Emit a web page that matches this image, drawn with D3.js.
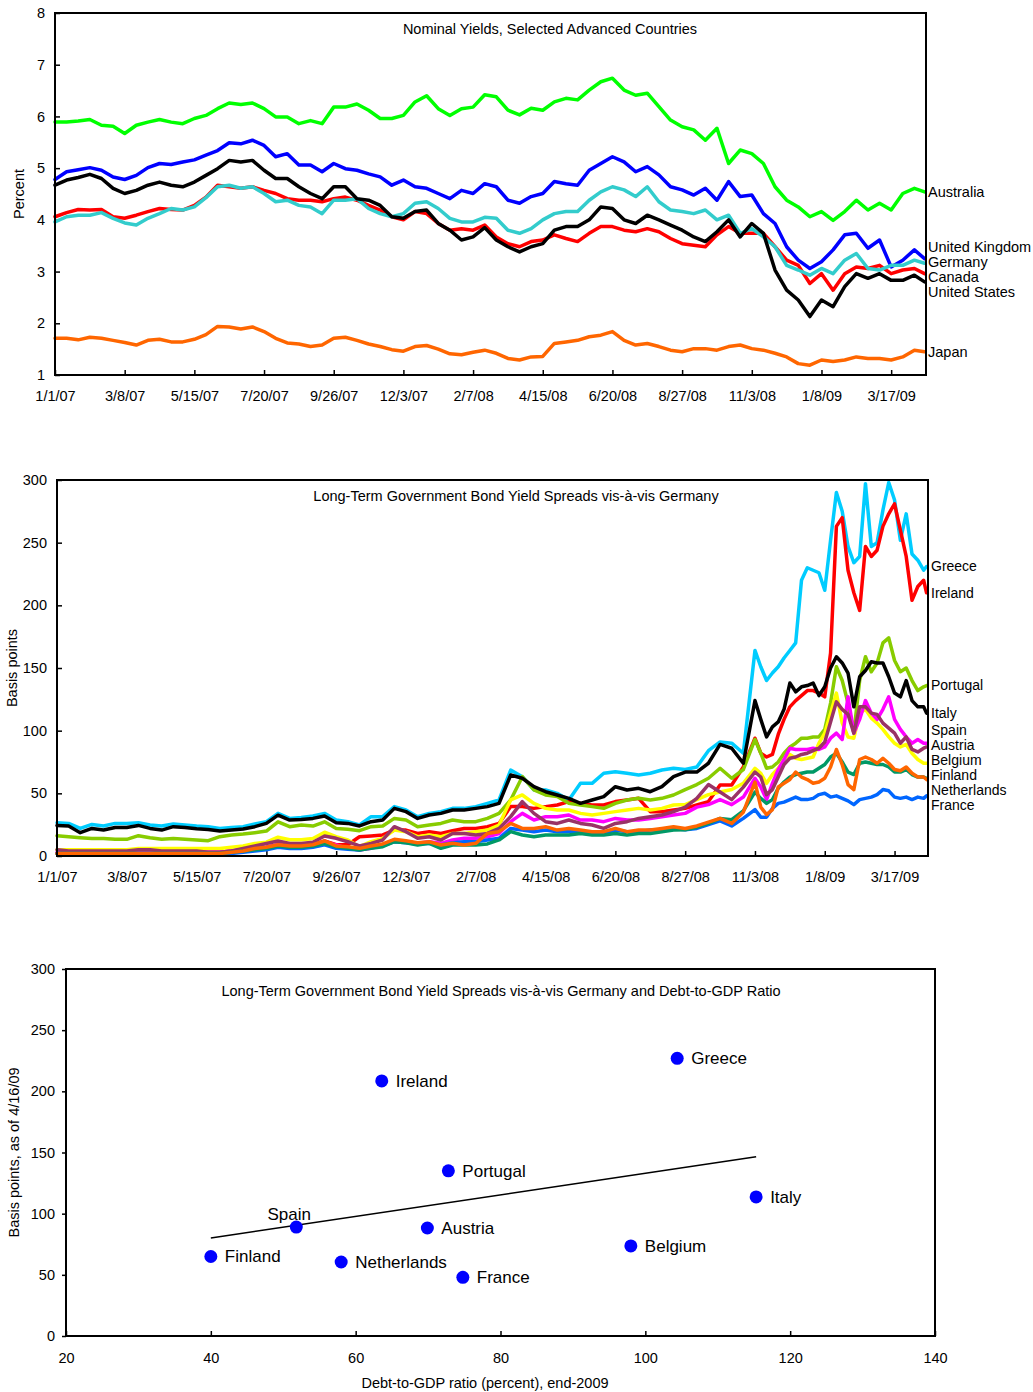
<!DOCTYPE html>
<html>
<head>
<meta charset="utf-8">
<script src="https://cdn.jsdelivr.net/npm/d3@7"></script>
<style>
  body { margin: 0; background: #fff; }
  svg text { font-family: "Liberation Sans", Arial, Helvetica, sans-serif; fill: #000; }
</style>
</head>
<body>
<svg id="chart" width="1033" height="1392"></svg>
<script>
// ---- shared x axis: trading-day index, a label every 48 trading days ----
const dateTicks = ['1/1/07', '3/8/07', '5/15/07', '7/20/07', '9/26/07', '12/3/07', '2/7/08',
  '4/15/08', '6/20/08', '8/27/08', '11/3/08', '1/8/09', '3/17/09'];

// ---- panel 1: nominal yields (percent) ----
const yieldDays = [0,8,16,24,32,40,48,56,64,72,80,88,96,104,112,120,128,136,144,152,160,168,176,184,192,200,208,216,224,232,240,248,256,264,272,280,288,296,304,312,320,328,336,344,352,360,368,376,384,392,400,408,416,424,432,440,448,456,464,472,480,488,496,504,512,520,528,536,544,552,560,568,576,584,592,599];
const australia = [5.89,5.89,5.91,5.94,5.83,5.81,5.67,5.83,5.89,5.94,5.89,5.86,5.96,6.02,6.15,6.26,6.23,6.26,6.15,5.99,5.99,5.86,5.92,5.86,6.18,6.18,6.24,6.12,5.96,5.96,6.02,6.28,6.40,6.15,6.02,6.15,6.18,6.42,6.38,6.12,6.03,6.16,6.12,6.28,6.35,6.32,6.51,6.67,6.74,6.51,6.41,6.45,6.19,5.93,5.80,5.74,5.54,5.77,5.09,5.35,5.28,5.09,4.64,4.38,4.25,4.06,4.16,3.99,4.16,4.38,4.19,4.32,4.19,4.51,4.61,4.54];
const unitedKingdom = [4.78,4.93,4.97,5.01,4.96,4.83,4.78,4.86,5.01,5.09,5.07,5.12,5.16,5.25,5.34,5.49,5.47,5.54,5.44,5.22,5.28,5.06,5.06,4.93,5.09,4.99,4.96,4.89,4.83,4.67,4.77,4.64,4.61,4.51,4.41,4.57,4.51,4.70,4.64,4.38,4.32,4.45,4.51,4.74,4.70,4.67,4.96,5.09,5.22,5.12,4.93,5.03,4.87,4.64,4.58,4.48,4.61,4.38,4.74,4.45,4.48,4.12,3.93,3.48,3.22,3.06,3.19,3.42,3.71,3.74,3.45,3.61,3.09,3.22,3.42,3.25];
const germany = [3.96,4.06,4.09,4.09,4.14,4.03,3.94,3.90,4.03,4.12,4.22,4.19,4.25,4.43,4.64,4.67,4.61,4.64,4.51,4.35,4.38,4.28,4.25,4.12,4.38,4.38,4.41,4.22,4.12,4.06,4.12,4.32,4.35,4.22,4.03,3.96,3.96,4.05,4.03,3.80,3.74,3.83,4.00,4.12,4.16,4.16,4.38,4.54,4.64,4.58,4.45,4.64,4.35,4.19,4.16,4.12,4.19,4.00,4.09,3.74,3.83,3.67,3.48,3.12,3.03,2.93,3.06,2.96,3.22,3.35,3.06,3.03,3.12,3.12,3.22,3.16];
const canada = [4.06,4.14,4.20,4.19,4.20,4.06,4.03,4.09,4.16,4.22,4.20,4.19,4.28,4.44,4.67,4.64,4.61,4.64,4.57,4.51,4.41,4.38,4.38,4.35,4.41,4.44,4.38,4.28,4.19,4.06,4.00,4.16,4.12,3.93,3.80,3.83,3.80,3.90,3.67,3.54,3.48,3.58,3.61,3.71,3.64,3.58,3.74,3.87,3.87,3.80,3.77,3.83,3.77,3.64,3.54,3.51,3.48,3.71,3.87,3.74,3.74,3.74,3.48,3.22,3.12,2.77,2.96,2.64,2.96,3.09,3.06,3.12,2.96,3.03,3.06,2.96];
const unitedStates = [4.67,4.77,4.82,4.88,4.80,4.61,4.51,4.57,4.67,4.73,4.67,4.64,4.73,4.86,4.99,5.15,5.12,5.15,4.96,4.80,4.80,4.64,4.51,4.41,4.64,4.64,4.41,4.38,4.28,4.06,4.03,4.16,4.19,3.93,3.80,3.61,3.67,3.85,3.61,3.48,3.38,3.48,3.54,3.80,3.87,3.87,4.00,4.25,4.22,4.00,3.93,4.09,4.00,3.90,3.80,3.67,3.58,3.77,4.00,3.67,3.93,3.74,3.03,2.64,2.45,2.13,2.45,2.32,2.71,2.96,2.87,2.96,2.83,2.83,2.93,2.80];
const japan = [1.71,1.71,1.68,1.73,1.71,1.67,1.63,1.58,1.67,1.69,1.64,1.64,1.69,1.78,1.94,1.93,1.89,1.93,1.84,1.71,1.62,1.60,1.55,1.58,1.71,1.73,1.67,1.60,1.55,1.49,1.46,1.55,1.57,1.50,1.41,1.39,1.44,1.48,1.42,1.32,1.29,1.35,1.36,1.61,1.64,1.67,1.74,1.77,1.84,1.67,1.58,1.61,1.55,1.48,1.45,1.51,1.51,1.48,1.55,1.58,1.51,1.48,1.42,1.35,1.22,1.19,1.29,1.26,1.29,1.35,1.32,1.32,1.29,1.35,1.48,1.45];

// ---- panel 2: spreads vis-a-vis Germany (basis points) ----
const spreadDays = [0,8,16,24,32,40,48,56,64,72,80,88,96,104,112,120,128,136,144,152,160,168,176,184,192,200,208,216,224,232,240,248,256,264,272,280,288,296,304,312,320,328,336,344,352,360,368,376,384,392,400,408,416,424,432,440,448,456,464,472,480,484,488,492,496,500,504,508,512,516,520,524,528,532,536,540,544,548,552,556,560,564,568,572,576,580,584,588,592,596,598];
const greece = [26.5,26,22,25.2,23.9,26,26,26.5,24.7,23.9,25.5,24.7,23.9,23.4,22,22.8,23.4,25.5,27.3,34,30,30.8,31.9,34,28.7,27.4,24.7,31.4,31.4,39.4,36.7,31.4,34,35.4,38,38,39.4,42,44.7,68.6,63.3,52.7,52.7,50,44.7,58,58,66,67.3,66,64.6,66,68.6,70,69,71,84,91,90,82,164,151,140,146,151,158,164,170,220,230,228,226,212,252,290,275,247,234,239,297,247,250,276,298,284,252,273,241,236,228,231];
const ireland = [2,2,2,2,2,3,3,3,3,3,3,3,3,3,3,4,5,6,7,9,8,8,9,12,9,9,15.4,16,16.8,20.7,20.7,18,19.4,18,20.2,22,22,23.4,26,39.4,39.4,38,39.4,40.7,43.4,42,40.7,40.7,43.4,44.7,46,35.4,35.4,36.7,38,40.7,43.4,56.7,56.7,71,94,82,79,81,97,109,119,124,128,132,132,130,127,162,263,270,228,210,196,247,239,244,263,273,281,260,239,204,215,220,210];
const portugal = [16.2,15.4,14.6,14,14,13.3,13.3,16.2,14.6,13.3,14,13.3,12.7,12.2,15.4,16.7,17.5,18.6,19.9,27.3,23.4,24.7,23.9,27.3,22,21.3,20.2,23.4,24,30,28.7,23.4,24.7,26,28.7,27.4,27.4,30,34,44.7,63.3,52.7,48.7,47.4,42,40.7,39.4,38,42,44.7,46,44.7,46,48.7,53,57,62,70,62,69,93,82,70,71,75,82,87,90,94,94,95,95,101,122,151,140,122,98,140,159,147,154,170,174,156,147,150,140,132,135,136];
const italy = [24.4,23.9,18.6,22,20.7,22.8,22.8,24.4,22,20.7,23.4,22.8,21.8,21.2,19.9,20.7,21.5,23.4,26,32.6,28.7,29.2,30,31.9,26.6,26,24,27.4,28.7,38,35.4,30,32.7,34,36.7,36.7,38,39.4,42,64.6,62,55.3,51.3,48.7,46,42,44.7,47.4,55.3,52.7,54,51.3,55.3,63.3,67,67,74,89,86,74,124,109,95,103,107,117,138,131,135,136,138,128,135,150,159,154,146,119,143,148,155,154,154,143,130,127,140,124,119,119,114];
const spain = [3,3,3,3,3,3,3,3,3,3,3,3,3,3,3,4,5,6,7,9,7,8,8,11,8.8,6.1,4.8,6.1,8.8,12.8,11.4,10.1,11.4,10.1,12.8,14.1,14.1,15.4,18,27.4,34,28.7,31.4,31.4,32.7,28.7,28.7,27.4,30,28.7,28.7,30,31.4,32.7,34,39,41,45,41,47,62,55,45,58,69,77,86,85,85,85,86,85,87,94,98,93,127,98,109,124,114,109,117,127,109,101,95,90,93,90,90];
const austria = [5,4,4,4,4,4,4,5,5,4,4,4,4,3,3,4,6,8,10,12,10,10,11,16,14.1,11.4,8,10.1,12.8,23.4,19.4,14.1,15.4,12.8,18,18,16.8,18,22,31.4,43.4,34,27.4,26,28.7,26,24.7,22,26,27.4,30,31.4,32.7,35.4,39,46,57,51,45,55,67,63,49,53,63,73,78,79,81,82,84,86,91,107,123,117,113,98,119,119,114,113,106,102,98,90,95,85,83,86,87];
const belgium = [5,5,5,5,5,5,5,6,6,6,6,6,6,6,6,7,8,10,11,15,13,13,14,19,15.4,12.8,7.4,11.4,14.1,20.7,19.4,15.4,16.8,15.4,18,18,19.4,20.7,24.7,44.7,48.7,42,38,36.7,36.7,34,32.7,34,35.4,36.7,38,36.7,38,40.7,41,45,49,51,53,58,70,66,58,65,70,77,81,78,77,78,79,90,98,114,130,106,95,94,114,117,110,106,101,95,90,87,89,82,77,74,74];
const finland = [2,2,2,2,2,2,2,2,2,2,2,2,2,2,2,3,4,5,6,8,7,7,8,10,7.4,6.1,4.8,6.1,7.4,11.4,10.6,8.8,10.1,6.1,8.8,8.8,8.8,9.6,12.8,19.4,16.8,15.4,16.8,16.8,16.8,18,16.8,16.8,18,16.8,18,18,19.4,20.7,21,23,26,30,29,36,51,46,42,45,54,59,63,65,66,67,67,70,73,79,82,75,67,65,74,75,74,73,73,71,67,67,69,65,63,63,62];
const netherlands = [2,2,2,2,2,2,2,2,2,2,2,2,2,2,2,3,4,6,7,9,8,8,9,12,8,7.4,6.1,8,9.6,13.3,12.2,10.6,11.4,8.8,10.1,8.8,10.1,18,19.4,26,22,22,23.4,20.7,22,20.7,19.4,19.4,22,19.4,20.7,20.7,22,23.4,22,24,27,30,26,35,59,39,33,37,55,58,61,67,63,61,58,59,62,71,85,73,57,53,77,79,77,74,78,74,69,68,71,66,63,63,61];
const france = [2,2,2,2,2,2,2,2,2,2,2,2,2,2,2,2,3,4,5,7,6,6,7,9,6.1,5.3,4.8,6.9,8,11.4,10.6,9.6,10.1,8.8,10.6,11.4,11.4,12.8,14.1,22,20.7,19.4,20.7,19.4,19.4,19.4,18,18,20.7,19.4,19.4,20.7,20.7,22,21,22,25,28,24,30,37,31,31,38,42,43,45,47,45,45,46,49,50,47,48,46,44,41,45,46,47,49,53,52,47,46,47,45,47,46,48];

// ---- panel 3: spread on 4/16/09 vs debt-to-GDP, end-2009 ----
const debtCountries = ['Finland', 'Spain', 'Netherlands', 'Ireland', 'Austria', 'Portugal', 'France', 'Belgium', 'Greece', 'Italy'];
const debtRatio = [40.0, 51.8, 58.0, 63.6, 69.9, 72.8, 74.8, 98.0, 104.4, 115.3];
const spreadApr16 = [65, 89, 60.5, 208.5, 88.3, 135, 48, 73.6, 227, 113.7];

const svg = d3.select('#chart');
const fontSize = 14.5;

const styleAxis = (g) => {
  g.select('.domain').remove();
  g.selectAll('.tick line').attr('stroke', '#000').attr('stroke-width', 1.5);
  g.selectAll('.tick text')
    .style('font-size', fontSize + 'px')
    .style('font-family', '"Liberation Sans", Arial, sans-serif')
    .attr('fill', '#000');
};

const drawFrame = (g, box) => {
  g.append('rect')
    .attr('x', box.left)
    .attr('y', box.top)
    .attr('width', box.right - box.left)
    .attr('height', box.bottom - box.top)
    .attr('fill', 'none')
    .attr('stroke', '#000')
    .attr('stroke-width', 2);
};

// push labels apart so they do not overlap
const spreadLabels = (items, minGap) => {
  items.sort((a, b) => a.y - b.y);
  for (let n = 0; n < 120; n++) {
    for (let i = 1; i < items.length; i++) {
      const gap = items[i].y - items[i - 1].y;
      if (gap < minGap) {
        const push = (minGap - gap) / 2;
        items[i].y += push;
        items[i - 1].y -= push;
      }
    }
  }
  return items;
};

const drawTimePanel = (cfg) => {
  const box = cfg.box;
  const g = svg.append('g');

  const xScale = d3.scaleLinear().domain([0, cfg.lastDay]).range([box.left, box.right]);
  const yScale = d3.scaleLinear().domain(cfg.yDomain).range([box.bottom, box.top]);

  const xAxis = d3
    .axisBottom(xScale)
    .tickValues(dateTicks.map((d, i) => i * 48))
    .tickFormat((d, i) => dateTicks[i])
    .tickSizeInner(-5)
    .tickSizeOuter(0)
    .tickPadding(16);

  g.append('g')
    .attr('transform', 'translate(0,' + box.bottom + ')')
    .call(xAxis)
    .call(styleAxis);

  const yAxis = d3
    .axisLeft(yScale)
    .tickValues(cfg.yTicks)
    .tickFormat(d3.format('d'))
    .tickSizeInner(-5)
    .tickSizeOuter(0)
    .tickPadding(10);

  g.append('g')
    .attr('transform', 'translate(' + box.left + ',0)')
    .call(yAxis)
    .call(styleAxis);

  const line = d3
    .line()
    .x((d, i) => xScale(cfg.days[i]))
    .y(d => yScale(d));

  g.selectAll('.series')
    .data(cfg.series)
    .enter()
    .append('path')
    .classed('series', true)
    .attr('d', s => line(s.values))
    .attr('fill', 'none')
    .attr('stroke', s => s.color)
    .attr('stroke-width', cfg.lineWidth)
    .attr('stroke-linejoin', 'round')
    .attr('stroke-linecap', 'round');

  drawFrame(g, box);

  const labels = spreadLabels(
    cfg.series.map(s => ({ name: s.name, y: yScale(s.values[s.values.length - 1]) })),
    cfg.labelGap
  );

  g.selectAll('.end-label')
    .data(labels)
    .enter()
    .append('text')
    .classed('end-label', true)
    .attr('x', box.right + cfg.labelDx)
    .attr('y', d => d.y)
    .attr('dy', '0.35em')
    .style('font-size', cfg.labelSize + 'px')
    .text(d => d.name);

  g.append('text')
    .attr('x', cfg.titleX)
    .attr('y', box.top + 16)
    .attr('dy', '0.35em')
    .style('text-anchor', 'middle')
    .style('font-size', fontSize + 'px')
    .text(cfg.title);

  g.append('text')
    .attr('transform', 'rotate(-90)')
    .attr('x', -(box.top + box.bottom) / 2)
    .attr('y', cfg.yLabelX)
    .attr('dy', '0.35em')
    .style('text-anchor', 'middle')
    .style('font-size', fontSize + 'px')
    .text(cfg.yLabel);
};

drawTimePanel({
  box: { left: 55, right: 926, top: 13, bottom: 375 },
  lastDay: 600,
  days: yieldDays,
  yDomain: [1, 8],
  yTicks: [1, 2, 3, 4, 5, 6, 7, 8],
  lineWidth: 3.5,
  labelGap: 15,
  labelSize: 14.5,
  labelDx: 2,
  title: 'Nominal Yields, Selected Advanced Countries',
  titleX: 550,
  yLabel: 'Percent',
  yLabelX: 19,
  series: [
    { name: 'Australia', color: '#00ff00', values: australia },
    { name: 'United Kingdom', color: '#0000ff', values: unitedKingdom },
    { name: 'Canada', color: '#ff0000', values: canada },
    { name: 'Germany', color: '#33cccc', values: germany },
    { name: 'United States', color: '#000000', values: unitedStates },
    { name: 'Japan', color: '#ff6600', values: japan },
  ],
});

drawTimePanel({
  box: { left: 57, right: 928, top: 480, bottom: 856 },
  lastDay: 599,
  days: spreadDays,
  yDomain: [0, 300],
  yTicks: [0, 50, 100, 150, 200, 250, 300],
  lineWidth: 3.5,
  labelGap: 15,
  labelSize: 14,
  labelDx: 3,
  title: 'Long-Term Government Bond Yield Spreads vis-\u00e0-vis Germany',
  titleX: 516,
  yLabel: 'Basis points',
  yLabelX: 12,
  series: [
    { name: 'Greece', color: '#00ccff', values: greece },
    { name: 'Ireland', color: '#ff0000', values: ireland },
    { name: 'Portugal', color: '#88cc00', values: portugal },
    { name: 'Italy', color: '#000000', values: italy },
    { name: 'Belgium', color: '#ffff00', values: belgium },
    { name: 'Spain', color: '#ff00ff', values: spain },
    { name: 'Austria', color: '#993366', values: austria },
    { name: 'France', color: '#0066ff', values: france },
    { name: 'Finland', color: '#009966', values: finland },
    { name: 'Netherlands', color: '#ff6600', values: netherlands },
  ],
});

// ---- scatter panel ----
const drawScatter = () => {
  const box = { left: 66, right: 935, top: 969, bottom: 1336 };
  const g = svg.append('g');

  const xScale = d3.scaleLinear().domain([20, 140]).range([box.left, box.right]);
  const yScale = d3.scaleLinear().domain([0, 300]).range([box.bottom, box.top]);

  g.append('g')
    .attr('transform', 'translate(0,' + box.bottom + ')')
    .call(d3.axisBottom(xScale).tickValues(d3.range(20, 141, 20)).tickSizeInner(-5).tickSizeOuter(0).tickPadding(17))
    .call(styleAxis);

  g.append('g')
    .attr('transform', 'translate(' + box.left + ',0)')
    .call(d3.axisLeft(yScale).tickValues(d3.range(0, 301, 50)).tickSizeInner(4).tickSizeOuter(0).tickPadding(7))
    .call(styleAxis);

  const points = debtCountries.map((name, i) => ({ name, x: debtRatio[i], y: spreadApr16[i] }));

  // least-squares trend line over the plotted points
  const mx = d3.mean(points, d => d.x);
  const my = d3.mean(points, d => d.y);
  const slope =
    d3.sum(points, d => (d.x - mx) * (d.y - my)) / d3.sum(points, d => (d.x - mx) * (d.x - mx));
  const xEnds = d3.extent(points, d => d.x);

  g.append('line')
    .attr('x1', xScale(xEnds[0]))
    .attr('y1', yScale(my + slope * (xEnds[0] - mx)))
    .attr('x2', xScale(xEnds[1]))
    .attr('y2', yScale(my + slope * (xEnds[1] - mx)))
    .attr('stroke', '#000')
    .attr('stroke-width', 1.5);

  g.selectAll('.dot')
    .data(points)
    .enter()
    .append('circle')
    .classed('dot', true)
    .attr('cx', d => xScale(d.x))
    .attr('cy', d => yScale(d.y))
    .attr('r', 6.5)
    .attr('fill', '#0000ff');

  g.selectAll('.dot-label')
    .data(points)
    .enter()
    .append('text')
    .classed('dot-label', true)
    .attr('x', d => xScale(d.x) + (d.name === 'Spain' ? -7 : 14))
    .attr('y', d => yScale(d.y) + (d.name === 'Spain' ? -13 : 0))
    .attr('dy', '0.35em')
    .style('text-anchor', d => (d.name === 'Spain' ? 'middle' : 'start'))
    .style('font-size', '17px')
    .text(d => d.name);

  drawFrame(g, box);

  g.append('text')
    .attr('x', 501)
    .attr('y', 991)
    .attr('dy', '0.35em')
    .style('text-anchor', 'middle')
    .style('font-size', fontSize + 'px')
    .text('Long-Term Government Bond Yield Spreads vis-\u00e0-vis Germany and Debt-to-GDP Ratio');

  g.append('text')
    .attr('x', 485)
    .attr('y', 1383)
    .attr('dy', '0.35em')
    .style('text-anchor', 'middle')
    .style('font-size', fontSize + 'px')
    .text('Debt-to-GDP ratio (percent), end-2009');

  g.append('text')
    .attr('transform', 'rotate(-90)')
    .attr('x', -(box.top + box.bottom) / 2)
    .attr('y', 14)
    .attr('dy', '0.35em')
    .style('text-anchor', 'middle')
    .style('font-size', fontSize + 'px')
    .text('Basis points, as of 4/16/09');
};

drawScatter();
</script>
</body>
</html>
